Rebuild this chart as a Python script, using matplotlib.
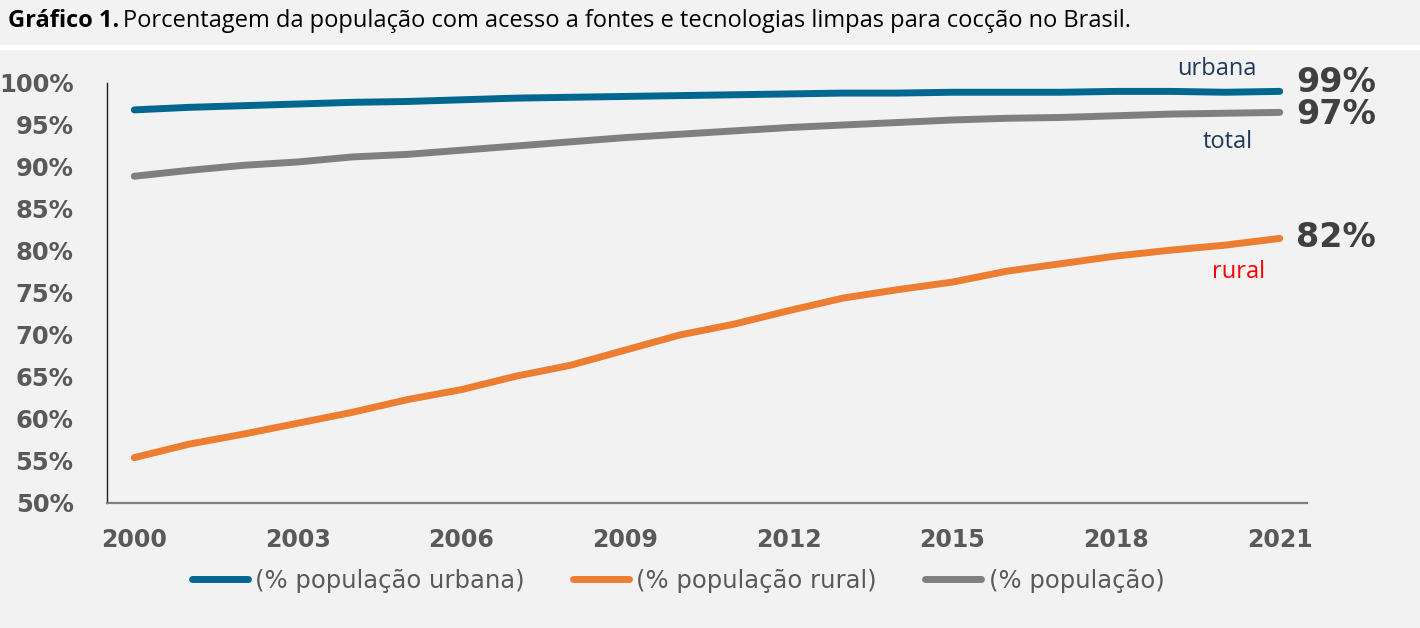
import matplotlib.pyplot as plt
from matplotlib.lines import Line2D

years = list(range(2000, 2022))
urbana = [96.8, 97.1, 97.3, 97.5, 97.7, 97.8, 98.0, 98.2, 98.3, 98.4, 98.5,
          98.6, 98.7, 98.8, 98.8, 98.9, 98.9, 98.9, 99.0, 99.0, 98.9, 99.0]
rural = [55.4, 57.0, 58.2, 59.5, 60.8, 62.3, 63.5, 65.1, 66.4, 68.2, 70.0,
         71.3, 72.9, 74.4, 75.4, 76.3, 77.6, 78.5, 79.4, 80.1, 80.7, 81.5]
total = [88.9, 89.6, 90.2, 90.6, 91.2, 91.5, 92.0, 92.5, 93.0, 93.5, 93.9,
         94.3, 94.7, 95.0, 95.3, 95.6, 95.8, 95.9, 96.1, 96.3, 96.4, 96.5]
xticks = [2000, 2003, 2006, 2009, 2012, 2015, 2018, 2021]
yticks = list(range(50, 101, 5))
end_labels = ["99%", "97%", "82%"]
legend_labels = ["(% população urbana)", "(% população rural)", "(% população)"]

c_urb = "#006890"
c_rur = "#ED7D31"
c_tot = "#7F7F7F"
bg = "#F2F2F2"

fig = plt.figure(figsize=(14.2, 6.28), dpi=100, facecolor=bg)

# white strip under the title
fig.add_artist(plt.Rectangle((0, 1 - 50/628), 1, 5/628, transform=fig.transFigure,
                             facecolor="white", edgecolor="none"))

# title
t = fig.text(8/1420, 1 - 21/628, "Gráfico 1.", fontsize=17, fontweight="bold",
             va="center", ha="left", family="Open Sans")
fig.canvas.draw()
bb = t.get_window_extent()
fig.text(bb.x1 / 1420 + 4/1420, 1 - 21/628,
         "Porcentagem da população com acesso a fontes e tecnologias limpas para cocção no Brasil.",
         fontsize=17, va="center", ha="left", family="Open Sans")

ax = fig.add_axes([107/1420, (628-503)/628, 1200/1420, 420/628])
ax.set_facecolor(bg)
lw = 5
ax.plot(years, urbana, color=c_urb, lw=lw, solid_capstyle="round")
ax.plot(years, rural, color=c_rur, lw=lw, solid_capstyle="round")
ax.plot(years, total, color=c_tot, lw=lw, solid_capstyle="round")

ax.set_xlim(1999.5, 2021.5)
ax.set_ylim(50, 100)
ax.set_xticks(xticks)
ax.set_yticks(yticks)
ax.set_yticklabels([f"{v}%" for v in yticks])
ax.tick_params(length=0, labelcolor="#595959")
ax.tick_params(axis="x", pad=18, labelsize=17)
ax.tick_params(axis="y", pad=24, labelsize=17.5)
for lab in ax.get_xticklabels() + ax.get_yticklabels():
    lab.set_fontweight("bold")
ax.spines["top"].set_visible(False)
ax.spines["right"].set_visible(False)
ax.spines["left"].set_color("#202020")
ax.spines["left"].set_linewidth(1.0)
ax.spines["bottom"].set_color("#7F7F7F")
ax.spines["bottom"].set_linewidth(1.6)
ax.spines["left"].set_zorder(0)
for ln in ax.lines:
    ln.set_clip_on(False)

# end value labels
lx = years[-1] + 0.3
ax.text(lx, 100.0, end_labels[0], fontsize=24, fontweight="bold", color="#404040",
        va="center", ha="left", clip_on=False)
ax.text(lx, 96.2, end_labels[1], fontsize=24, fontweight="bold", color="#404040",
        va="center", ha="left", clip_on=False)
ax.text(lx, rural[-1] + 0.1, end_labels[2], fontsize=24, fontweight="bold", color="#404040",
        va="center", ha="left", clip_on=False)

# series names
ax.text(2019.85, 101.7, "urbana", fontsize=17, color="#1F3A5A", ha="center", va="center",
        clip_on=False, family="Open Sans")
ax.text(2020.05, 93.0, "total", fontsize=17, color="#1F3A5A", ha="center", va="center",
        family="Open Sans")
ax.text(2020.25, 77.5, "rural", fontsize=17, color="#FF0000", ha="center", va="center",
        family="Open Sans")

handles = [Line2D([], [], color=c, lw=5, solid_capstyle="round") for c in (c_urb, c_rur, c_tot)]
fig.legend(handles, legend_labels, loc="center", bbox_to_anchor=(678/1420, 1 - 581/628),
           ncol=3, frameon=False, fontsize=17.5, handlelength=2.3, handletextpad=0.3,
           columnspacing=2.0, labelcolor="#595959")

fig.savefig("out.png", dpi=100, facecolor=bg)
